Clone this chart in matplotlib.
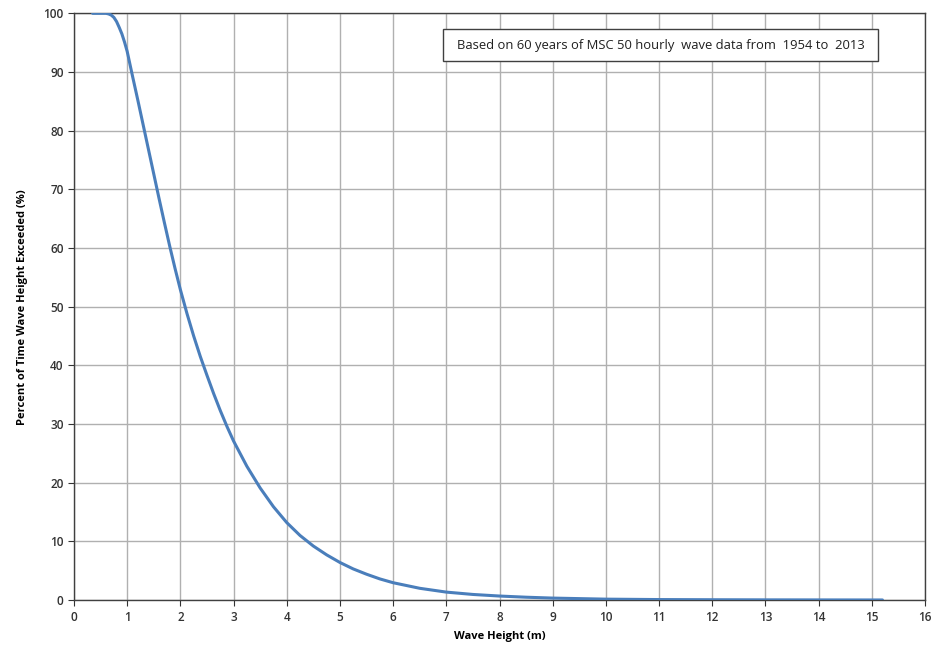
import matplotlib
matplotlib.use("Agg")
import matplotlib.pyplot as plt
from matplotlib.patches import Rectangle

# Exceedance curve for hourly significant wave height
wave_height_m = [0.35, 0.5, 0.6, 0.65, 0.7, 0.75, 0.8, 0.85, 0.9, 0.95, 1.0, 1.1, 1.2, 1.3, 1.4,
                 1.5, 1.6, 1.7, 1.8, 1.9, 2.0, 2.125, 2.25, 2.375, 2.5, 2.625, 2.75, 2.875,
                 3.0, 3.25, 3.5, 3.75, 4.0, 4.25, 4.5, 4.75, 5.0, 5.25, 5.5, 5.75, 6.0,
                 6.5, 7.0, 7.5, 8.0, 8.5, 9.0, 10.0, 11.0, 12.0, 13.0, 14.0, 15.0, 15.2]
percent_exceeded = [100.0, 100.0, 100.0, 99.9, 99.7, 99.3, 98.6, 97.6, 96.5, 95.1, 93.5, 89.3,
                    85.2, 81.0, 76.8, 72.6, 68.4, 64.3, 60.3, 56.5, 52.9, 48.8, 45.0, 41.5,
                    38.3, 35.2, 32.3, 29.6, 27.1, 22.8, 19.1, 15.9, 13.2, 11.0, 9.2, 7.7,
                    6.4, 5.3, 4.4, 3.6, 2.95, 2.0, 1.35, 0.95, 0.68, 0.48, 0.33, 0.15,
                    0.08, 0.05, 0.03, 0.02, 0.01, 0.01]

x_ticks = list(range(0, 17))
y_ticks = list(range(0, 101, 10))
note = "Based on 60 years of MSC 50 hourly  wave data from  1954 to  2013"

plt.rcParams["font.family"] = ["Open Sans", "DejaVu Sans"]

fig = plt.figure(figsize=(9.32, 6.47), dpi=100)
ax = fig.add_axes([0.0794, 0.0726, 0.9131, 0.9068])

ax.plot(wave_height_m, percent_exceeded, color="#4a7ebb", linewidth=2.2,
        solid_joinstyle="round", solid_capstyle="round", zorder=3)

ax.set_xlim(0, 16)
ax.set_ylim(0, 100)
ax.set_xticks(x_ticks)
ax.set_yticks(y_ticks)
ax.tick_params(labelsize=8.5, colors="#333333", length=4, width=0.8, direction="out")
ax.tick_params(axis="x", pad=4)
for lbl in ax.get_xticklabels() + ax.get_yticklabels():
    lbl.set_fontweight("semibold")
ax.grid(True, color="#b0b0b0", linewidth=1.0)
ax.set_axisbelow(True)
for spine in ax.spines.values():
    spine.set_color("#404040")
    spine.set_linewidth(1.0)

ax.set_xlabel("Wave Height (m)", fontsize=8, fontweight="bold", labelpad=5)
ax.set_ylabel("Percent of Time Wave Height Exceeded (%)", fontsize=8,
              fontweight="bold", labelpad=11)

# annotation box in the upper right
ax.add_patch(Rectangle((0.4336, 0.9187), 0.5112, 0.0543, transform=ax.transAxes,
                       facecolor="white", edgecolor="#404040", linewidth=1.0, zorder=4))
ax.text(0.6892, 0.9458, note, transform=ax.transAxes, ha="center", va="center",
        fontsize=9.4, color="#202020", zorder=5)

fig.savefig("out.png", dpi=100)
